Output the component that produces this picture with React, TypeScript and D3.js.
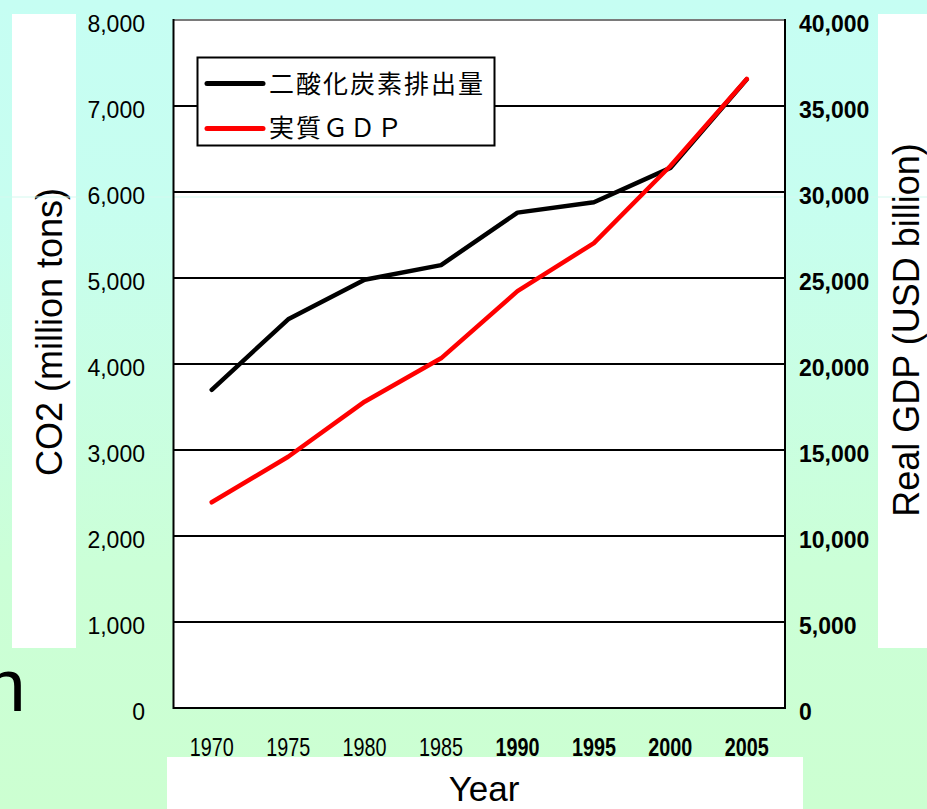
import React from "react";
import * as d3 from "d3";

const years = ["1970", "1975", "1980", "1985", "1990", "1995", "2000", "2005"];
const boldYears = ["1990", "1995", "2000", "2005"];
const co2 = [3700, 4520, 4980, 5150, 5760, 5880, 6280, 7310];
const gdp = [11960, 14610, 17810, 20330, 24240, 27030, 31510, 36570];
const leftTicks = [0, 1000, 2000, 3000, 4000, 5000, 6000, 7000, 8000];
const rightTicks = [0, 5000, 10000, 15000, 20000, 25000, 30000, 35000, 40000];
const seriesNames = ["二酸化炭素排出量", "実質ＧＤＰ"];
const seriesColors = ["#000000", "#ff0000"];
const leftTitle = "CO2 (million tons)";
const rightTitle = "Real GDP (USD billion)";
const xTitle = "Year";

const W = 927;
const H = 809;
const plot = { left: 173.5, right: 785, top: 20, bottom: 708 };
const sans = "'Liberation Sans', Arial, Helvetica, sans-serif";
const cjk = "'Noto Sans CJK JP', 'Noto Sans CJK SC', sans-serif";

export default function App() {
  const x = d3.scaleBand<string>().domain(years).range([plot.left, plot.right]);
  const yL = d3.scaleLinear().domain([0, 8000]).range([plot.bottom, plot.top]);
  const yR = d3.scaleLinear().domain([0, 40000]).range([plot.bottom, plot.top]);
  const cx = (yr: string) => (x(yr) as number) + x.bandwidth() / 2;
  const fmt = d3.format(",");

  const co2Line = d3
    .line<number>()
    .x((_, i) => cx(years[i]))
    .y((d) => yL(d))(co2) as string;
  const gdpLine = d3
    .line<number>()
    .x((_, i) => cx(years[i]))
    .y((d) => yR(d))(gdp) as string;

  return (
    <svg
      width={W}
      height={H}
      style={{ position: "absolute", left: 0, top: 0, display: "block" }}
    >
      <defs>
        <linearGradient id="bg" x1="0" y1="0" x2="0" y2="1">
          <stop offset="0" stopColor="#c6fef3" />
          <stop offset="0.25" stopColor="#c7fef0" />
          <stop offset="0.7" stopColor="#cbffd7" />
          <stop offset="1" stopColor="#ccffd1" />
        </linearGradient>
      </defs>
      <rect x={0} y={0} width={W} height={H} fill="url(#bg)" />
      {/* side white panels */}
      <rect x={12} y={14} width={64} height={634} fill="#ffffff" />
      <rect x={878} y={14} width={49} height={634} fill="#ffffff" />
      {/* partial slide letter */}
      <text x={-16} y={711} fontFamily={sans} fontSize={75} fill="#000">
        n
      </text>

      {/* axis titles */}
      <text
        transform={`translate(62, 332) rotate(-90)`}
        textAnchor="middle"
        fontFamily={sans}
        fontSize={36}
        fill="#000"
      >
        {leftTitle}
      </text>
      <text
        transform={`translate(919, 330) rotate(-90)`}
        textAnchor="middle"
        fontFamily={sans}
        fontSize={36}
        fill="#000"
      >
        {rightTitle}
      </text>

      {/* plot area */}
      <rect
        x={plot.left}
        y={plot.top}
        width={plot.right - plot.left}
        height={plot.bottom - plot.top}
        fill="#ffffff"
      />
      <line x1={0} x2={W} y1={197} y2={197} stroke="#d4f9ef" strokeWidth={1} />
      {leftTicks
        .filter((t) => t > 0 && t < 8000)
        .map((t) => (
          <line
            key={t}
            x1={plot.left}
            x2={plot.right}
            y1={yL(t)}
            y2={yL(t)}
            stroke="#000"
            strokeWidth={2}
          />
        ))}
      {/* frame */}
      <line x1={plot.left} x2={plot.right} y1={plot.top} y2={plot.top} stroke="#7a7a7a" strokeWidth={2} />
      <line x1={plot.left} x2={plot.left} y1={plot.top - 1} y2={plot.bottom + 1} stroke="#000" strokeWidth={2} />
      <line x1={plot.right} x2={plot.right} y1={plot.top - 1} y2={plot.bottom + 1} stroke="#000" strokeWidth={2} />
      <line x1={plot.left} x2={plot.right} y1={plot.bottom} y2={plot.bottom} stroke="#000" strokeWidth={2} />

      {/* data lines */}
      <path d={co2Line} fill="none" stroke={seriesColors[0]} strokeWidth={4.5} strokeLinejoin="round" strokeLinecap="round" />
      <path d={gdpLine} fill="none" stroke={seriesColors[1]} strokeWidth={4.5} strokeLinejoin="round" strokeLinecap="round" />

      {/* legend */}
      <rect x={197.5} y={57.5} width={297} height={88} fill="#ffffff" stroke="#000" strokeWidth={2} />
      {seriesNames.map((name, i) => (
        <g key={name}>
          <line
            x1={207}
            x2={263}
            y1={83.5 + i * 45}
            y2={83.5 + i * 45}
            stroke={seriesColors[i]}
            strokeWidth={5}
            strokeLinecap="round"
          />
          <text
            x={269}
            y={93 + i * 44}
            fontFamily={cjk}
            fontSize={25}
            letterSpacing={2}
            fill="#000"
          >
            {name}
          </text>
        </g>
      ))}

      {/* left tick labels */}
      {leftTicks.map((t) => (
        <text
          key={t}
          x={145}
          y={yL(t) + 11.5}
          textAnchor="end"
          fontFamily={sans}
          fontSize={23}
          fill="#000"
        >
          {fmt(t)}
        </text>
      ))}
      {/* right tick labels */}
      {rightTicks.map((t) => (
        <text
          key={t}
          x={799}
          y={yR(t) + 11.5}
          textAnchor="start"
          fontFamily={sans}
          fontWeight="bold"
          fontSize={23}
          fill="#000"
        >
          {fmt(t)}
        </text>
      ))}
      {/* year labels */}
      {years.map((yr) => (
        <text
          key={yr}
          x={cx(yr)}
          y={756}
          textAnchor="middle"
          fontFamily={sans}
          fontWeight={boldYears.includes(yr) ? "bold" : "normal"}
          fontSize={25}
          textLength={44}
          lengthAdjust="spacingAndGlyphs"
          fill="#000"
        >
          {yr}
        </text>
      ))}

      {/* bottom white panel with x title */}
      <rect x={167} y={757} width={636} height={52} fill="#ffffff" />
      <text x={484} y={801} textAnchor="middle" fontFamily={sans} fontSize={35} fill="#000">
        {xTitle}
      </text>
    </svg>
  );
}
